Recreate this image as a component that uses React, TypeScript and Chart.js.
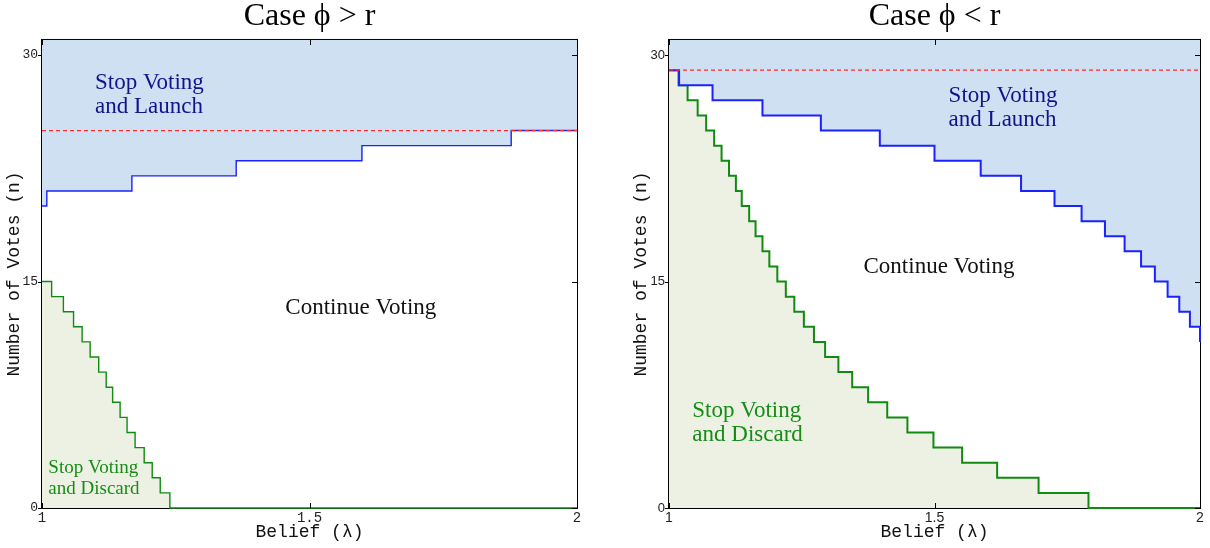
import React, { useEffect, useRef } from 'react';
import { Chart, registerables } from 'chart.js';

Chart.register(...registerables);

// ---------- shared axis ticks ----------
const xTickValues = [1, 1.5, 2];
const xTickLabels = ['1', '1.5', '2'];
const yTickValues = [0, 15, 30];
const yTickLabels = ['0', '15', '30'];

// ---------- left panel: Case phi > r ----------
const leftLaunchBelief = [1, 1.009, 1.168, 1.363, 1.598, 1.877, 2];
const leftLaunchVotes = [20, 21, 22, 23, 24, 25, 25];
const leftDiscardBelief = [1, 1.018, 1.04, 1.059, 1.075, 1.09, 1.106, 1.12, 1.132, 1.146, 1.159, 1.174, 1.191, 1.206, 1.221, 1.239, 2];
const leftDiscardVotes = [15, 14, 13, 12, 11, 10, 9, 8, 7, 6, 5, 4, 3, 2, 1, 0, 0];
const leftCapVotes = 25;

// ---------- right panel: Case phi < r ----------
const rightLaunchBelief = [1, 1.019, 1.082, 1.176, 1.286, 1.397, 1.5, 1.587, 1.663, 1.726, 1.777, 1.821, 1.858, 1.889, 1.915, 1.939, 1.961, 1.981, 2];
const rightLaunchVotes = [29, 28, 27, 26, 25, 24, 23, 22, 21, 20, 19, 18, 17, 16, 15, 14, 13, 12, 11];
const rightDiscardBelief = [1, 1.018, 1.035, 1.054, 1.07, 1.085, 1.099, 1.113, 1.126, 1.137, 1.151, 1.163, 1.176, 1.189, 1.204, 1.22, 1.236, 1.254, 1.273, 1.294, 1.319, 1.345, 1.375, 1.411, 1.449, 1.498, 1.552, 1.618, 1.696, 1.79, 2];
const rightDiscardVotes = [29, 28, 27, 26, 25, 24, 23, 22, 21, 20, 19, 18, 17, 16, 15, 14, 13, 12, 11, 10, 9, 8, 7, 6, 5, 4, 3, 2, 1, 0, 0];
const rightCapVotes = 29;

// ---------- styles ----------
const BLUE_LINE = '#1a22ff';
const BLUE_FILL = '#cfe0f2';
const GREEN_LINE = '#118a11';
const GREEN_FILL = '#edf1e4';
const RED = '#ff2a2a';
const NAVY_TEXT = '#12128c';
const GREEN_TEXT = '#178c17';
const SERIF = "'Liberation Serif', 'DejaVu Serif', serif";
const MONO = "'Liberation Mono', 'DejaVu Sans Mono', monospace";
const SANS = "'Liberation Sans', Arial, sans-serif";

type Note = { lines: string[]; x: number; y: number; color: string; size: number; gap: number };

const leftNotes: Note[] = [
  { lines: ['Stop Voting', 'and Launch'], x: 1.099, y: 28.13, color: NAVY_TEXT, size: 23, gap: 24 },
  { lines: ['Continue Voting'], x: 1.4548, y: 13.25, color: '#111', size: 23, gap: 24 },
  { lines: ['Stop Voting', 'and Discard'], x: 1.0118, y: 2.68, color: GREEN_TEXT, size: 19, gap: 21 },
];
const rightNotes: Note[] = [
  { lines: ['Stop Voting', 'and Launch'], x: 1.5266, y: 27.28, color: NAVY_TEXT, size: 23, gap: 24 },
  { lines: ['Continue Voting'], x: 1.3663, y: 15.95, color: '#111', size: 23, gap: 24 },
  { lines: ['Stop Voting', 'and Discard'], x: 1.0439, y: 6.46, color: GREEN_TEXT, size: 23, gap: 24.4 },
];

const toPoints = (xs: number[], ys: number[]) => xs.map((x, i) => ({ x, y: ys[i] }));

const framePlugin = {
  id: 'frame',
  beforeDatasetsDraw(chart: any) {
    const { ctx, chartArea: a } = chart;
    ctx.save();
    ctx.strokeStyle = '#000';
    ctx.lineWidth = 1;
    ctx.strokeRect(a.left - 0.5, a.top - 0.5, a.right - a.left + 1, a.bottom - a.top + 1);
    ctx.restore();
  },
  afterDraw(chart: any, _args: any, opts: any) {
    const { ctx, chartArea: a, scales } = chart;
    const xs = scales.x;
    const ys = scales.y;
    ctx.save();
    ctx.strokeStyle = '#000';
    ctx.lineWidth = 1;
    ctx.beginPath();
    xTickValues.forEach((v) => {
      const px = Math.round(xs.getPixelForValue(v)) + 0.5;
      ctx.moveTo(px, a.bottom);
      ctx.lineTo(px, a.bottom - 5);
      ctx.moveTo(px, a.top);
      ctx.lineTo(px, a.top + 5);
    });
    yTickValues.forEach((v) => {
      const py = Math.round(ys.getPixelForValue(v)) + 0.5;
      ctx.moveTo(a.left - 4, py);
      ctx.lineTo(a.left, py);
      ctx.moveTo(a.right, py);
      ctx.lineTo(a.right - 5, py);
    });
    ctx.stroke();

    const notes: Note[] = opts.notes || [];
    ctx.textAlign = 'left';
    ctx.textBaseline = 'middle';
    notes.forEach((n) => {
      ctx.fillStyle = n.color;
      ctx.font = `${n.size}px ${SERIF}`;
      const px = xs.getPixelForValue(n.x);
      const py = ys.getPixelForValue(n.y);
      n.lines.forEach((t, i) => ctx.fillText(t, px, py + i * n.gap));
    });
    ctx.restore();
  },
};

type PanelProps = {
  title: string;
  launchX: number[];
  launchY: number[];
  discardX: number[];
  discardY: number[];
  cap: number;
  notes: Note[];
  tickFont: string;
  padLeft: number;
  padRight: number;
  lineWidth: number;
};

function Panel(p: PanelProps) {
  const ref = useRef<HTMLCanvasElement | null>(null);
  useEffect(() => {
    if (!ref.current) return;
    const chart = new Chart(ref.current, {
      type: 'line',
      data: {
        datasets: [
          {
            data: [{ x: 1, y: p.cap }, { x: 2, y: p.cap }],
            borderColor: RED,
            borderWidth: 1.3,
            borderDash: [4, 3],
            pointRadius: 0,
            fill: false,
            clip: 4,
          } as any,
          {
            data: toPoints(p.launchX, p.launchY),
            borderColor: BLUE_LINE,
            backgroundColor: BLUE_FILL,
            borderWidth: p.lineWidth,
            stepped: true,
            fill: 'end',
            pointRadius: 0,
            clip: 4,
          },
          {
            data: toPoints(p.discardX, p.discardY),
            borderColor: GREEN_LINE,
            backgroundColor: GREEN_FILL,
            borderWidth: p.lineWidth,
            stepped: true,
            fill: 'start',
            pointRadius: 0,
            clip: 4,
          },
        ],
      },
      options: {
        responsive: false,
        animation: false,
        events: [],
        layout: { padding: { left: p.padLeft, right: p.padRight, top: 0, bottom: 0 } },
        plugins: {
          legend: { display: false },
          tooltip: { enabled: false },
          title: {
            display: true,
            text: p.title,
            fullSize: false,
            color: '#000',
            font: { family: SERIF, size: 32, weight: 'normal', lineHeight: 0.78 },
            padding: { top: 4, bottom: 11 },
          },
          frame: { notes: p.notes },
        } as any,
        scales: {
          x: {
            type: 'linear',
            min: 1,
            max: 2,
            grid: { display: false, drawTicks: false },
            border: { display: false },
            afterBuildTicks: (s: any) => {
              s.ticks = xTickValues.map((v) => ({ value: v }));
            },
            afterFit: (s: any) => {
              s.height = 40;
            },
            ticks: {
              padding: 2,
              color: '#222',
              font: { family: p.tickFont, size: 14 },
              maxRotation: 0,
              callback: (_v: any, i: number) => xTickLabels[i],
            },
            title: {
              display: true,
              text: 'Belief (λ)',
              color: '#111',
              font: { family: MONO, size: 18 },
              padding: { top: 0, bottom: 5 },
            },
          },
          y: {
            type: 'linear',
            min: 0,
            max: 31,
            grid: { display: false, drawTicks: false },
            border: { display: false },
            afterBuildTicks: (s: any) => {
              s.ticks = yTickValues.map((v) => ({ value: v }));
            },
            afterFit: (s: any) => {
              s.width = 42;
            },
            ticks: {
              padding: 4,
              color: '#222',
              font: { family: p.tickFont, size: 13 },
              callback: (_v: any, i: number) => yTickLabels[i],
            },
            title: {
              display: true,
              text: 'Number of Votes (n)',
              color: '#111',
              font: { family: MONO, size: 18 },
              padding: { top: 3, bottom: 0 },
            },
          },
        },
      },
      plugins: [framePlugin as any],
    });
    return () => chart.destroy();
  }, []);
  return <canvas ref={ref} width={605} height={548} style={{ display: 'block' }} />;
}

export default function App() {
  return (
    <div style={{ position: 'absolute', left: 0, top: 0, width: 1210, height: 548, background: '#fff', display: 'flex' }}>
      <Panel
        title="Case ϕ > r"
        launchX={leftLaunchBelief}
        launchY={leftLaunchVotes}
        discardX={leftDiscardBelief}
        discardY={leftDiscardVotes}
        cap={leftCapVotes}
        notes={leftNotes}
        tickFont={MONO}
        padLeft={0}
        padRight={28}
        lineWidth={1.4}
      />
      <Panel
        title="Case ϕ < r"
        launchX={rightLaunchBelief}
        launchY={rightLaunchVotes}
        discardX={rightDiscardBelief}
        discardY={rightDiscardVotes}
        cap={rightCapVotes}
        notes={rightNotes}
        tickFont={SANS}
        padLeft={22}
        padRight={10}
        lineWidth={2}
      />
    </div>
  );
}
